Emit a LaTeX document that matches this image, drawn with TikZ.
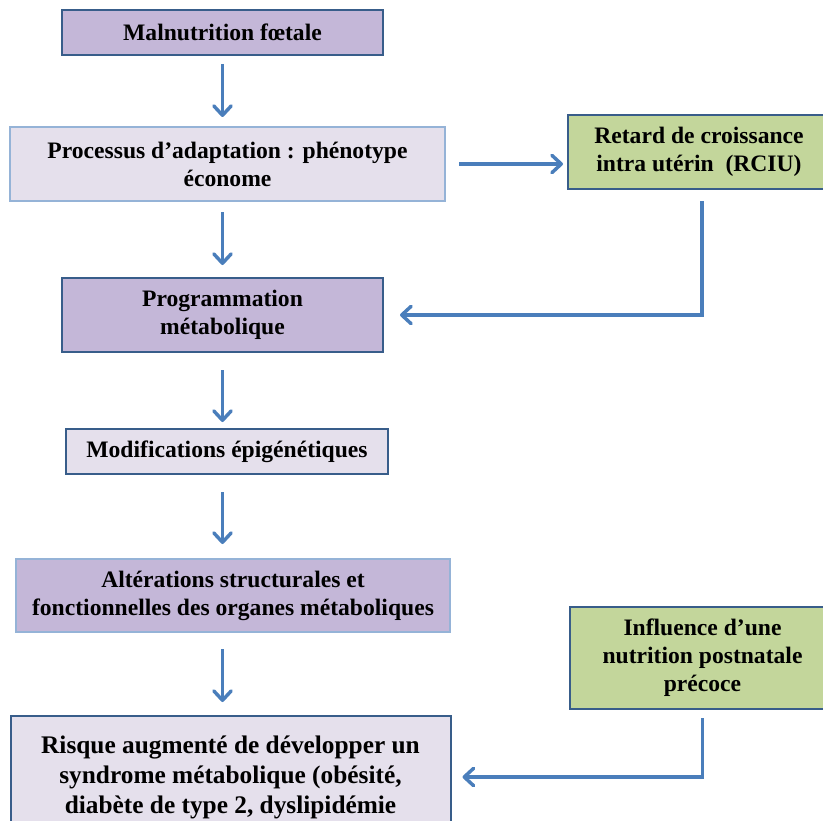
\documentclass[tikz,border=0pt]{standalone}
\usepackage{fontspec}
\setmainfont{Liberation Serif}
\usetikzlibrary{arrows.meta}

\definecolor{mauve}{HTML}{C4B7D8}
\definecolor{lavender}{HTML}{E5E0EC}
\definecolor{olivegreen}{HTML}{C3D69B}
\definecolor{darkedge}{HTML}{385D8A}
\definecolor{lightedge}{HTML}{95B3D7}
\definecolor{arrowblue}{HTML}{4A7EBB}

\begin{document}
\begin{tikzpicture}[x=0.75pt,y=-0.75pt,
    box/.style={draw=darkedge,line width=1.5pt,align=center,inner sep=0pt,
        font=\bfseries\fontsize{17.7}{21}\selectfont},
    arr/.style={draw=arrowblue,line width=2.6pt,
        -{Straight Barb[length=7pt,width=13pt,round]}}]
    \useasboundingbox (0,0) rectangle (823,820);
    \clip (0,0) rectangle (823,820);

    \node[box,fill=mauve,minimum width=321*0.75pt,minimum height=45*0.75pt] (malnut) at (222.5,32.5) {Malnutrition fœtale};
    \node[box,fill=lavender,draw=lightedge,minimum width=435*0.75pt,minimum height=74*0.75pt] (adapt) at (227.5,164) {Processus d’adaptation : phénotype\\ économe};
    \node[box,fill=olivegreen,minimum width=262*0.75pt,minimum height=74*0.75pt] (rciu) at (699,152) {Retard de croissance\\ intra utérin~ (RCIU)};
    \node[box,fill=mauve,minimum width=321*0.75pt,minimum height=74*0.75pt] (prog) at (222.5,315) {Programmation\\ métabolique};
    \node[box,fill=lavender,minimum width=322*0.75pt,minimum height=45*0.75pt] (epigen) at (227,451.5) {Modifications épigénétiques};
    \node[box,fill=mauve,draw=lightedge,minimum width=434*0.75pt,minimum height=73*0.75pt] (alter) at (233,595.5) {Altérations structurales et\\ fonctionnelles des organes métaboliques};
    \node[box,fill=olivegreen,minimum width=265*0.75pt,minimum height=102*0.75pt] (postnat) at (702.5,658) {Influence d’une\\ nutrition postnatale\\ précoce};
    \node[box,fill=lavender,minimum width=440*0.75pt,minimum height=122*0.75pt,
        font=\bfseries\fontsize{19}{22.5}\selectfont] (risque) at (230.5,777)
        {Risque augmenté de développer un\\ syndrome métabolique (obésité,\\ diabète de type 2, dyslipidémie};

    % fleches verticales
    \draw[arr,shorten <=8*0.75pt,shorten >=9*0.75pt] (malnut.south) -- (malnut.south |- adapt.north);
    \draw[arr,shorten <=10*0.75pt,shorten >=12*0.75pt] (prog.north |- adapt.south) -- (prog.north);
    \draw[arr,shorten <=17*0.75pt,shorten >=6*0.75pt] (prog.south) -- (prog.south |- epigen.north);
    \draw[arr,shorten <=17*0.75pt,shorten >=14*0.75pt] (prog.south |- epigen.south) -- (prog.south |- alter.north);
    \draw[arr,shorten <=16*0.75pt,shorten >=13*0.75pt] (prog.south |- alter.south) -- (prog.south |- risque.north);

    % fleches laterales
    \draw[arr,shorten <=13*0.75pt,shorten >=4*0.75pt] (adapt.east) -- (adapt.east -| rciu.west);
    \draw[arr,shorten <=11*0.75pt,shorten >=16*0.75pt] ([xshift=3*0.75pt]rciu.south) |- (prog.east);
    \draw[arr,shorten <=8*0.75pt,shorten >=11*0.75pt] (postnat.south) |- (risque.east);
\end{tikzpicture}
\end{document}
